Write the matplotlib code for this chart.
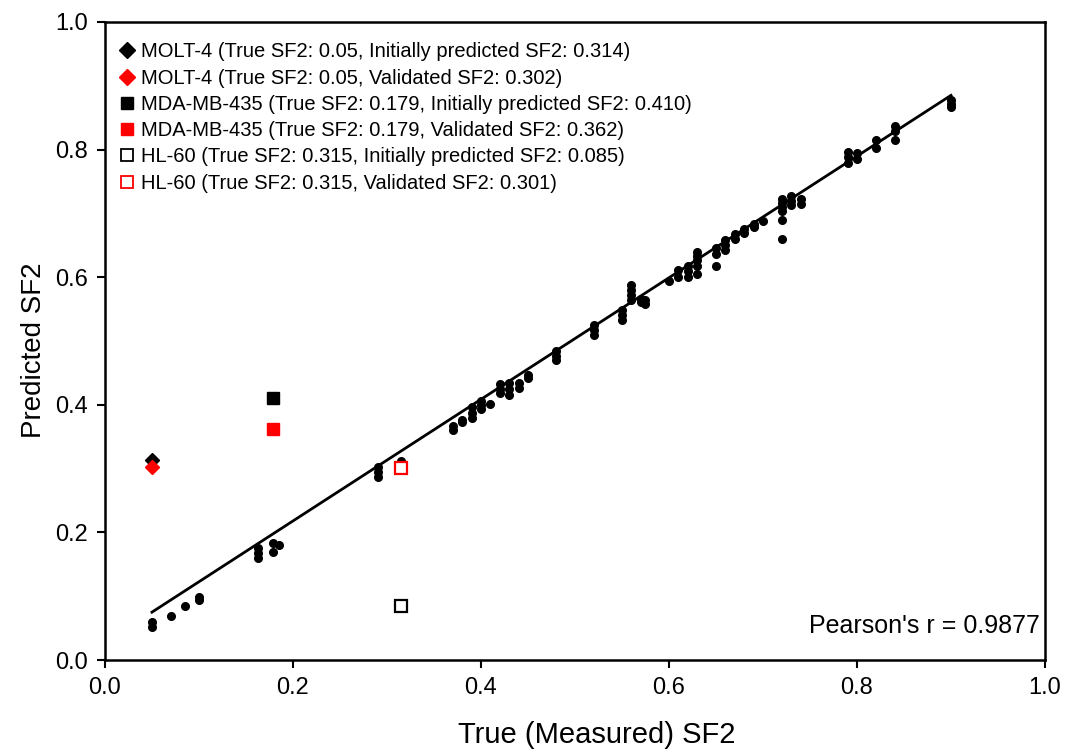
import matplotlib
matplotlib.use('Agg')
import matplotlib.pyplot as plt
from matplotlib.lines import Line2D
import numpy as np

plt.rcParams['font.family'] = ['Liberation Sans', 'DejaVu Sans']

# training / cross-validation points
train_x = [0.05, 0.05, 0.07, 0.085, 0.10, 0.10,
           0.163, 0.163, 0.163, 0.179, 0.179, 0.185,
           0.29, 0.29, 0.29, 0.315,
           0.37, 0.37, 0.38, 0.38, 0.39, 0.39, 0.39, 0.40, 0.40, 0.40, 0.41,
           0.42, 0.42, 0.42, 0.43, 0.43, 0.43, 0.44, 0.44, 0.45, 0.45,
           0.48, 0.48, 0.48, 0.52, 0.52, 0.52, 0.55, 0.55, 0.55,
           0.56, 0.56, 0.56, 0.56, 0.57, 0.57, 0.575, 0.575,
           0.60, 0.61, 0.61, 0.62, 0.62, 0.62,
           0.63, 0.63, 0.63, 0.63, 0.63, 0.65, 0.65, 0.65,
           0.66, 0.66, 0.66, 0.67, 0.67, 0.68, 0.68, 0.69, 0.69, 0.70,
           0.72, 0.72, 0.72, 0.72, 0.72, 0.72, 0.73, 0.73, 0.73, 0.74, 0.74,
           0.79, 0.79, 0.79, 0.80, 0.80, 0.82, 0.82,
           0.84, 0.84, 0.84, 0.90, 0.90, 0.90]
train_y = [0.060, 0.052, 0.069, 0.085, 0.099, 0.094,
           0.176, 0.168, 0.160, 0.183, 0.169, 0.181,
           0.302, 0.295, 0.287, 0.312,
           0.367, 0.361, 0.376, 0.373, 0.397, 0.387, 0.380, 0.406, 0.400, 0.393, 0.402,
           0.432, 0.425, 0.418, 0.434, 0.425, 0.416, 0.434, 0.426, 0.447, 0.442,
           0.484, 0.477, 0.470, 0.525, 0.517, 0.509, 0.548, 0.541, 0.533,
           0.587, 0.580, 0.572, 0.564, 0.566, 0.561, 0.565, 0.558,
           0.594, 0.612, 0.601, 0.618, 0.609, 0.600,
           0.640, 0.634, 0.627, 0.618, 0.605, 0.645, 0.636, 0.618,
           0.659, 0.651, 0.643, 0.668, 0.660, 0.676, 0.670, 0.684, 0.679, 0.688,
           0.723, 0.717, 0.710, 0.703, 0.690, 0.660, 0.728, 0.720, 0.713, 0.723, 0.715,
           0.797, 0.788, 0.779, 0.795, 0.785, 0.815, 0.803,
           0.837, 0.829, 0.815, 0.878, 0.872, 0.866]

# regression line ends
fit_x = [0.05, 0.90]
fit_y = [0.075, 0.885]

# validation cell lines
molt_true = 0.05
molt_init, molt_valid = 0.314, 0.302
mda_true = 0.179
mda_init, mda_valid = 0.410, 0.362
hl_true = 0.315
hl_init, hl_valid = 0.085, 0.301

legend_labels = [
    'MOLT-4 (True SF2: 0.05, Initially predicted SF2: 0.314)',
    'MOLT-4 (True SF2: 0.05, Validated SF2: 0.302)',
    'MDA-MB-435 (True SF2: 0.179, Initially predicted SF2: 0.410)',
    'MDA-MB-435 (True SF2: 0.179, Validated SF2: 0.362)',
    'HL-60 (True SF2: 0.315, Initially predicted SF2: 0.085)',
    'HL-60 (True SF2: 0.315, Validated SF2: 0.301)',
]
pearson_text = "Pearson's r = 0.9877"

fig = plt.figure(figsize=(10.7, 7.53), dpi=100)
ax = fig.add_axes([0.0981, 0.1235, 0.8785, 0.8473])

ax.plot(train_x, train_y, 'o', color='black', markersize=5.5, zorder=3)
ax.plot(fit_x, fit_y, '-', color='black', linewidth=2, zorder=2)

ax.plot([molt_true], [molt_init], 'D', color='black', markersize=7, zorder=4)
ax.plot([molt_true], [molt_valid], 'D', color='red', markersize=7, zorder=4)
ax.plot([mda_true], [mda_init], 's', color='black', markersize=8, zorder=4)
ax.plot([mda_true], [mda_valid], 's', color='red', markersize=8, zorder=4)
ax.plot([hl_true], [hl_init], 's', mfc='white', mec='black', mew=1.6, markersize=8.5, zorder=4)
ax.plot([hl_true], [hl_valid], 's', mfc='white', mec='red', mew=1.6, markersize=8.5, zorder=4)

handles = [
    Line2D([], [], ls='none', marker='D', color='black', markersize=8),
    Line2D([], [], ls='none', marker='D', color='red', markersize=8),
    Line2D([], [], ls='none', marker='s', color='black', markersize=8),
    Line2D([], [], ls='none', marker='s', color='red', markersize=8),
    Line2D([], [], ls='none', marker='s', mfc='white', mec='black', mew=1.3, markersize=8),
    Line2D([], [], ls='none', marker='s', mfc='white', mec='red', mew=1.3, markersize=8),
]
ax.legend(handles, legend_labels, loc='upper left', frameon=False, fontsize=14.5,
          handlelength=0.8, handletextpad=0.3, labelspacing=0.36,
          borderaxespad=0.3, bbox_to_anchor=(0.0, 0.99))

ax.text(0.995, 0.035, pearson_text, transform=ax.transAxes, ha='right', va='bottom',
        fontsize=18)

ax.set_xlim(0, 1.0)
ax.set_ylim(0, 1.0)
ticks = np.arange(0, 1.01, 0.2)
ax.set_xticks(ticks)
ax.set_yticks(ticks)
ax.set_xticklabels(['%.1f' % t for t in ticks])
ax.set_yticklabels(['%.1f' % t for t in ticks])
ax.tick_params(direction='out', length=6, width=1.5, labelsize=17, pad=6)
for sp in ax.spines.values():
    sp.set_linewidth(1.8)

ax.set_xlabel('True (Measured) SF2', fontsize=21)
ax.set_ylabel('Predicted SF2', fontsize=20)
ax.xaxis.set_label_coords(0.523, -0.095)
ax.yaxis.set_label_coords(-0.062, 0.486)

plt.savefig('out.png', dpi=100)
